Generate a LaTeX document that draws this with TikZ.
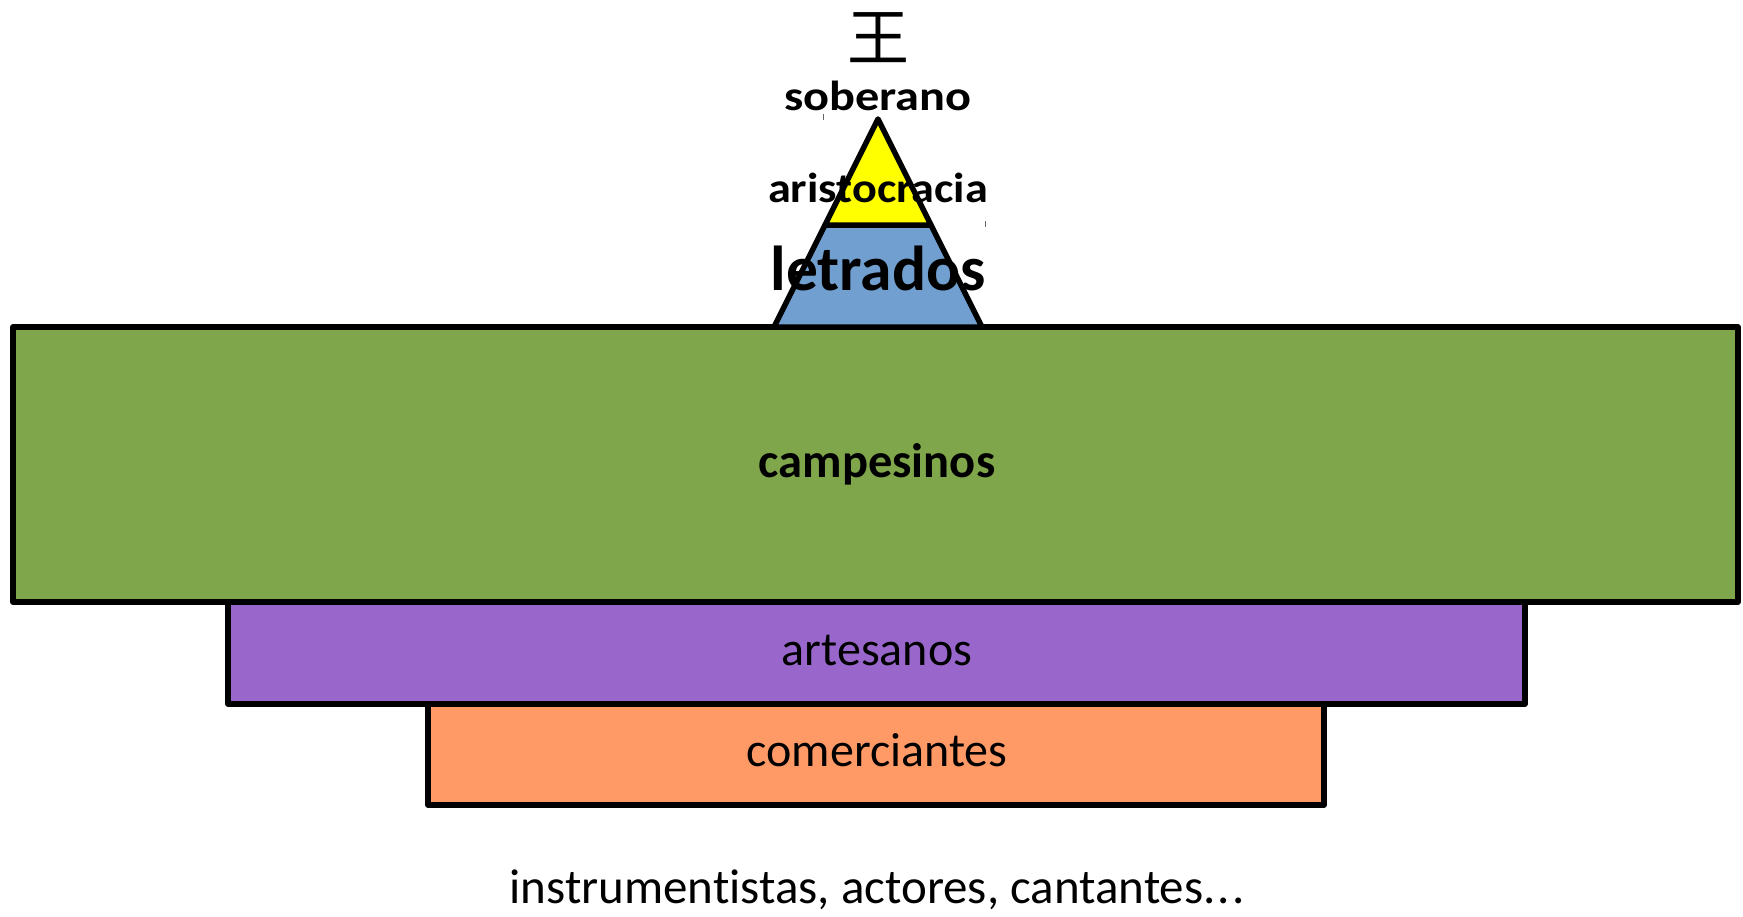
\documentclass[tikz,border=0pt]{standalone}
\usepackage{fontspec}
\setmainfont{Carlito}[Ligatures=NoCommon]
\newfontfamily\cjk{Noto Sans CJK SC}
\definecolor{cgreen}{RGB}{127,166,74}
\definecolor{cpurple}{RGB}{153,102,204}
\definecolor{corange}{RGB}{255,153,102}
\definecolor{cblue}{RGB}{112,159,208}
\definecolor{cyellow}{RGB}{255,255,0}
\tikzset{
  layer/.style={draw=black, line width=5.5pt, line join=round},
  lbl/.style={anchor=base, inner sep=0pt, text=black},
  big/.style={font=\fontsize{48}{56}\selectfont},
  bigb/.style={font=\fontsize{48.5}{56}\selectfont\bfseries},
  tick/.style={draw=black!60, line width=1pt}
}
\begin{document}
\begin{tikzpicture}[x=1pt,y=-1pt]
\useasboundingbox (0,0) rectangle (1743,916);
% layers
\path[layer, fill=cgreen] (13,327) rectangle (1738,602);
\path[layer, fill=cpurple] (228,602) rectangle (1525,704);
\path[layer, fill=corange] (428,704) rectangle (1324,805);
\path[layer, fill=cblue] (825,225) -- (931,225) -- (982,327) -- (774,327) -- cycle;
\path[layer, fill=cyellow] (878,119) -- (931,225) -- (825,225) -- cycle;
% tiny ticks
\draw[tick] (823,114) -- (823,120);
\draw[tick] (985,221) -- (985,227);
% labels
\node[lbl, font=\cjk\fontsize{62}{66}\selectfont] (wang) at (878,60) {王};
\node[lbl, font=\fontsize{42}{46}\selectfont\bfseries, xscale=1.15] (sob) at (878,110) {soberano};
\node[lbl, font=\fontsize{42}{46}\selectfont\bfseries, xscale=1.1] (ari) at (878,202) {aristocracia};
\node[lbl, font=\fontsize{63.5}{70}\selectfont\bfseries] (let) at (878,290) {letrados};
\node[lbl, bigb] (cam) at (877,477) {campesinos};
\node[lbl, big] (art) at (877,665) {artesanos};
\node[lbl, big] (com) at (877,766) {comerciantes};
\node[lbl, font=\fontsize{49}{56}\selectfont] (ins) at (877,903) {instrumentistas, actores, cantantes.\kern2pt.\kern2pt.};
\end{tikzpicture}
\end{document}
